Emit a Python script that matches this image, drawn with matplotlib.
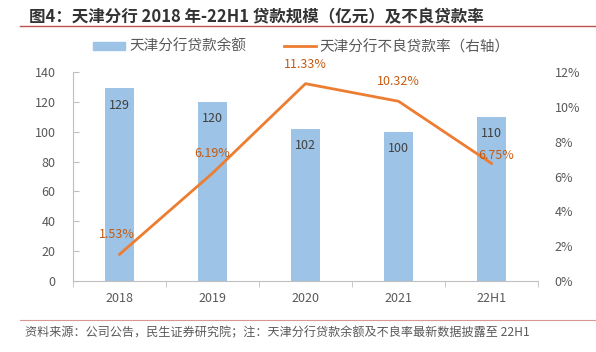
import matplotlib
matplotlib.use("Agg")
import matplotlib.pyplot as plt
from matplotlib.lines import Line2D
from matplotlib.patches import Patch
from matplotlib.ticker import FuncFormatter

plt.rcParams["font.family"] = ["Noto Sans CJK SC", "DejaVu Sans"]

categories = ["2018", "2019", "2020", "2021", "22H1"]
loan_balance = [129, 120, 102, 100, 110]
npl_ratio = [1.53, 6.19, 11.33, 10.32, 6.75]

title = "图4：天津分行 2018 年-22H1 贷款规模（亿元）及不良贷款率"
source = "资料来源：公司公告，民生证券研究院；注：天津分行贷款余额及不良率最新数据披露至 22H1"
bar_name = "天津分行贷款余额"
line_name = "天津分行不良贷款率（右轴）"

BAR_COLOR = "#9DC3E6"
LINE_COLOR = "#ED7D31"
LABEL_COLOR = "#C55A11"
TEXT_COLOR = "#595959"
AXIS_COLOR = "#BFBFBF"
RULE_COLOR = "#C0504D"

W, H = 596, 352
fig = plt.figure(figsize=(W / 100, H / 100), dpi=100)

# plot area in pixels: x 73..538, y 72..281
ax = fig.add_axes([73 / W, (H - 281) / H, 465 / W, 209 / H])
x = range(len(categories))
bars = ax.bar(x, loan_balance, width=0.32, color=BAR_COLOR, zorder=2)
ax.set_xlim(-0.5, len(categories) - 0.5)
ax.set_ylim(0, 140)
ax.set_yticks(range(0, 141, 20))
ax.set_xticks(list(x))
ax.set_xticklabels(categories)
ax.set_xticks([i + 0.5 for i in range(-1, len(categories))], minor=True)
ax.tick_params(axis="x", which="major", length=0, pad=8, labelsize=9, labelcolor=TEXT_COLOR)
ax.tick_params(axis="x", which="minor", length=4, direction="out", color=AXIS_COLOR)
ax.tick_params(axis="y", length=4, direction="in", color=AXIS_COLOR, pad=12.5,
               labelsize=9, labelcolor=TEXT_COLOR)
for side in ("top", "right"):
    ax.spines[side].set_visible(False)
for side in ("left", "bottom"):
    ax.spines[side].set_color(AXIS_COLOR)

for rect, val in zip(bars, loan_balance):
    ax.annotate(f"{val}", (rect.get_x() + rect.get_width() / 2, val),
                xytext=(0, -12), textcoords="offset points",
                ha="center", va="center", fontsize=9, color="#404040")

ax2 = ax.twinx()
ax2.plot(list(x), npl_ratio, color=LINE_COLOR, lw=2, zorder=3)
ax2.set_ylim(0, 12)
ax2.set_yticks(range(0, 13, 2))
ax2.yaxis.set_major_formatter(FuncFormatter(lambda v, _: f"{v:.0f}%"))
ax2.tick_params(axis="y", length=0, pad=12, labelsize=9, labelcolor=TEXT_COLOR)
for side in ("top", "right", "left", "bottom"):
    ax2.spines[side].set_visible(False)

label_offsets = [(-2, 14), (0, 14), (0, 14), (0, 14), (3, 6)]
for xi, val, off in zip(x, npl_ratio, label_offsets):
    ax2.annotate(f"{val:.2f}%", (xi, val), xytext=off, textcoords="offset points",
                 ha="center", va="center", fontsize=9, color=LABEL_COLOR)

handles = [Patch(color=BAR_COLOR), Line2D([], [], color=LINE_COLOR, lw=2)]
fig.legend(handles, [bar_name, line_name], loc="center", bbox_to_anchor=(0.506, (H - 47) / H),
           ncol=2, frameon=False, fontsize=10.5, labelcolor=TEXT_COLOR,
           handlelength=2.2, handleheight=0.5, columnspacing=2.6, handletextpad=0.25,
           borderpad=0, borderaxespad=0)

fig.text(29 / W, (H - 17) / H, title, fontsize=11.9, fontweight="bold", color="#333333",
         ha="left", va="center")
fig.add_artist(Line2D([20 / W, 1], [(H - 26) / H] * 2, color=RULE_COLOR, lw=1))
fig.add_artist(Line2D([20 / W, 1], [(H - 320) / H] * 2, color=RULE_COLOR, lw=0.8, alpha=0.6))
fig.text(25 / W, (H - 333) / H, source, fontsize=8.7, color=TEXT_COLOR, ha="left", va="center")

fig.savefig("out.png", dpi=100)
